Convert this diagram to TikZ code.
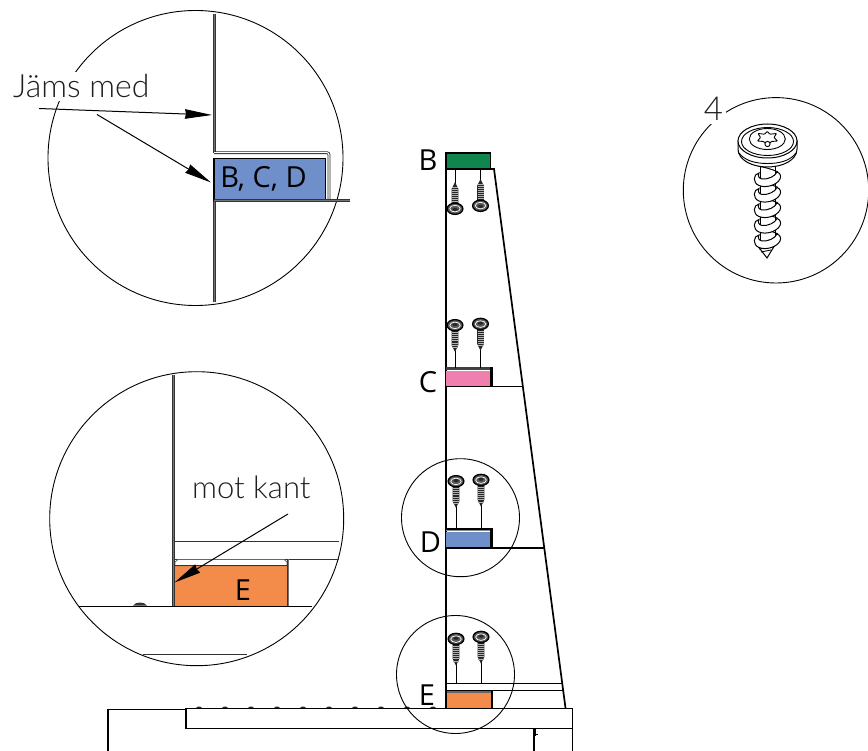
\documentclass[tikz,border=0pt]{standalone}
\usepackage{fontspec}
\setmainfont{Open Sans}
\newfontfamily\lightfont{Lato Light}
\usetikzlibrary{arrows.meta}
\definecolor{bluebox}{HTML}{6E8FC9}
\definecolor{greenbox}{HTML}{10864E}
\definecolor{pinkbox}{HTML}{EF7FAF}
\definecolor{orangebox}{HTML}{F38B4A}
\definecolor{inkgray}{HTML}{1E1E1E}
\tikzset{
  ring/.style={draw=black,line width=.9pt},
  wall/.style={draw=black,line width=1.7pt},
  thin line/.style={draw=black,line width=.9pt},
  shelf/.style={draw=black,line width=1.6pt},
  dbl/.style={draw=black!80,line width=.8pt,double=black!55,double distance=.8pt},
  lbl/.style={font=\fontsize{29}{31}\selectfont,text=black,inner sep=0pt},
  note/.style={font=\lightfont\fontsize{#1}{34}\selectfont,text=inkgray,fill=white,inner sep=1pt},
  callout/.style={draw=black,line width=1pt,-{Stealth[length=27pt,width=9.5pt,inset=1pt]}},
  smallscrew/.pic={
    \fill[black!85] (-3.4,4) -- (3.4,4) -- (3.4,21) -- (0,28) -- (-3.4,21) -- cycle;
    \draw[black!30,line width=6pt,dash pattern=on .6pt off 1.5pt] (0,6) -- (0,23);
    \draw[black,line width=1.3pt,fill=black!65] (0,1.2) ellipse [x radius=7.9pt,y radius=5.6pt];
    \draw[white,line width=.7pt] (0,1.4) ellipse [x radius=5.3pt,y radius=3.3pt];
    \fill[black!85] (0,.6) ellipse [x radius=2.6pt,y radius=1.5pt];
  },
  coil/.pic={
    \draw[black,line width=1pt] (11,-9) .. controls (5,-12) and (-4,-14) .. (-9,-15);
    \draw[black,line width=1pt,fill=white]
      (-8,-8) .. controls (-14,-7) and (-14.5,2) .. (-8,4.5)
      .. controls (-1,7.5) and (10,4) .. (13,-2)
      .. controls (14.5,-5) and (13,-8) .. (10,-9)
      .. controls (8,-4.5) and (1,-1.5) .. (-5,-2)
      .. controls (-8,-2.5) and (-9.5,-5) .. (-8,-8) -- cycle;
  }
}
\begin{document}
\begin{tikzpicture}[x=1pt,y=-1pt]
\useasboundingbox (0,0) rectangle (868,751);
% --- top-left detail
\coordinate (tc) at (195.5,158);
\draw[ring] (tc) circle [radius=147.5pt];
\node[note=32,anchor=base west,minimum height=29pt] (jams) at (12,98) {Jäms med};
\coordinate (t1) at (214.5,14);
\coordinate (t2) at (214.5,153);
\coordinate (t3) at (214.5,200);
\coordinate (t4) at (214.5,302);
\draw[dbl] (t1) -- (t2);
\draw[dbl] (t3) -- (t4);
\draw[draw=black!85,line width=.8pt,double=white,double distance=1.1pt,rounded corners=2pt] (214,152.7) -- (329,152.7) -- (329,200);
\draw[line width=1.1pt,draw=black,fill=bluebox] (214,158.5) rectangle (325.5,200);
\draw[dbl] (214,200.5) -- (349.5,200.5);
\node[lbl] (bcd) at (263.5,178.5) {B, C, D};
\coordinate (a1s) at (39,108.5);
\coordinate (a1e) at (212,115);
\coordinate (a2s) at (97,114.5);
\coordinate (a2e) at (211,182.5);
\draw[callout] (a1s) -- (a1e);
\draw[callout] (a2s) -- (a2e);
% --- lower-left detail
\coordinate (lc) at (196.7,518.7);
\draw[ring] (lc) circle [radius=147pt];
\fill[orangebox] (174,565.7) rectangle (288,606);
\draw[thin line,draw=black!80] (174,541) -- (339,541);
\draw[thin line,draw=black!80] (174,559) -- (339,559);
\draw[draw=black!60,line width=.8pt,fill=white] (175,565.7) -- (175,562) -- (178,559.5) -- (284,559.5) -- (287,562) -- (287,565.7) -- cycle;
\draw[black!80,line width=.6pt] (175,565.7) -- (287,565.7);
\draw[dbl] (173.5,375) -- (173.5,606);
\draw[dbl] (288,559) -- (288,606);
\draw[thin line] (79,606) -- (312,606);
\fill[black!80] (133,605.5) .. controls (136,601.5) and (144,601.5) .. (147,605.5) -- cycle;
\draw[thin line,draw=black!80] (143,654) -- (247,654);
\node[note=31,anchor=base west,fill=none] (mot) at (191,498) {mot kant};
\node[lbl] (eb) at (243,590) {E};
\coordinate (a3s) at (288,514);
\coordinate (a3e) at (174.5,582.5);
\draw[callout] (a3s) -- (a3e);
% --- main elevation
\coordinate (ms) at (494,169);
\coordinate (me) at (565.5,708);
\draw[wall] (446,152) -- (446,708);
\draw[wall] (446,169) -- (ms) -- (me);
\draw[line width=1.2pt,fill=greenbox] (446,153) rectangle (490.5,169);
\fill[pinkbox] (446,371) rectangle (490.5,386.7);
\draw[draw=black!75,line width=2.4pt] (446,368.6) -- (491,368.6);
\draw[shelf] (446,386.7) -- (522.7,386.7);
\draw[line width=2.2pt] (491.5,367.5) -- (491.5,387.5);
\fill[bluebox] (446,531.5) rectangle (490.5,548);
\draw[black,line width=1.6pt] (446,529) -- (491,529);
\draw[black!45,line width=.9pt] (446,530.6) -- (490,530.6);
\draw[shelf] (446,548) -- (544,548);
\draw[line width=2.2pt] (491.5,528.2) -- (491.5,548.7);
\fill[orangebox] (447,693) rectangle (491,708);
\draw[draw=black!60,line width=2.2pt] (447,691.5) -- (491,691.5);
\draw[line width=.9pt] (446,690.4) -- (563.5,690.4);
\draw[line width=.9pt] (446,683.3) -- (562.5,683.3);
\draw[line width=2pt] (492,690) -- (492,708);
% base
\draw[line width=1.2pt] (186,708.5) rectangle (572.5,728.7);
\draw[line width=1.2pt] (186,709.5) -- (108,709.5) -- (108,751);
\draw[line width=1.2pt] (572.5,728.7) -- (572.5,751);
\draw[line width=1.1pt] (534,729) -- (534,751);
\draw[line width=.9pt] (535.5,729) -- (535.5,736);
\draw[line width=.8pt] (533.5,734.5) -- (537.5,734.5);
\foreach \dx in {199,225,251,277,303,329,355,381,407,433}
  \fill[black!85] (\dx-3,708) .. controls (\dx-2,706) and (\dx+2,706) .. (\dx+3,708) -- cycle;
% screws with leaders
\foreach \px/\hy/\ly in {455/324/368,480.5/322.7/368,456/480/529,481/478.7/529,456/637.7/683,481/635.7/683}{
  \draw[line width=.8pt] (\px,\hy+26) -- (\px,\ly);
  \pic at (\px,\hy) {smallscrew};
}
\foreach \px/\hy in {455/210,480.5/207}{
  \draw[line width=.8pt] (\px,170) -- (\px,\hy-26);
  \pic[yscale=-1] at (\px,\hy) {smallscrew};
}
% circles around details
\coordinate (dc) at (460.5,517.7);
\coordinate (ec) at (455.5,674.5);
\draw[ring] (dc) circle [radius=59pt];
\draw[ring] (ec) circle [radius=59pt];
\node[lbl] (lB) at (428,160) {B};
\node[lbl] (lC) at (428,382) {C};
\node[lbl] (lD) at (430.5,542) {D};
\node[lbl] (lE) at (427,695) {E};
% --- screw detail
\coordinate (sc) at (776,190.3);
\draw[ring] (sc) circle [radius=92.7pt];
\node[fill=white,inner sep=3pt,text=inkgray,font=\lightfont\fontsize{33}{35}\selectfont] (four) at (713.5,109) {4};
\draw[line width=1pt,fill=white] (757,245) -- (767,258) -- (775,245) -- cycle;
\draw[line width=.8pt] (759,249) -- (773,247);
\draw[line width=.8pt] (761,252) -- (771,250);
\draw[line width=1pt,fill=white] (760,160) rectangle (775,245);
\foreach \cy in {243,227.5,212,196.5,181}
  \pic at (767,\cy) {coil};
% head
\draw[line width=1pt,fill=white] (738,141) -- (738,149) .. controls (738,160) and (752,167) .. (767.5,167)
  .. controls (783,167) and (797,160) .. (797,149) -- (797,141) -- cycle;
\draw[line width=.9pt] (739,153) .. controls (745,161) and (756,163.5) .. (767.5,163.5) .. controls (779,163.5) and (790,161) .. (796,153);
\draw[line width=1pt,fill=white] (767.5,141) ellipse [x radius=29.5pt,y radius=17pt];
\draw[line width=.9pt] (767.5,141.5) ellipse [x radius=26pt,y radius=14pt];
\draw[line width=.9pt] (767.3,139) ellipse [x radius=18pt,y radius=10.5pt];
\draw[line width=.9pt,fill=white,rounded corners=.6pt]
  (767.3,131.5) -- (770,134.2) -- (776.5,133.5) -- (774,137.5) -- (777.5,141) -- (771.5,141.5) -- (767.5,145)
  -- (763.5,141.5) -- (757.5,141) -- (760.5,137.5) -- (758,133.5) -- (764.5,134.2) -- cycle;
\draw[line width=.9pt,fill=white] (767.5,144) circle [radius=2.6pt];
\end{tikzpicture}
\end{document}
